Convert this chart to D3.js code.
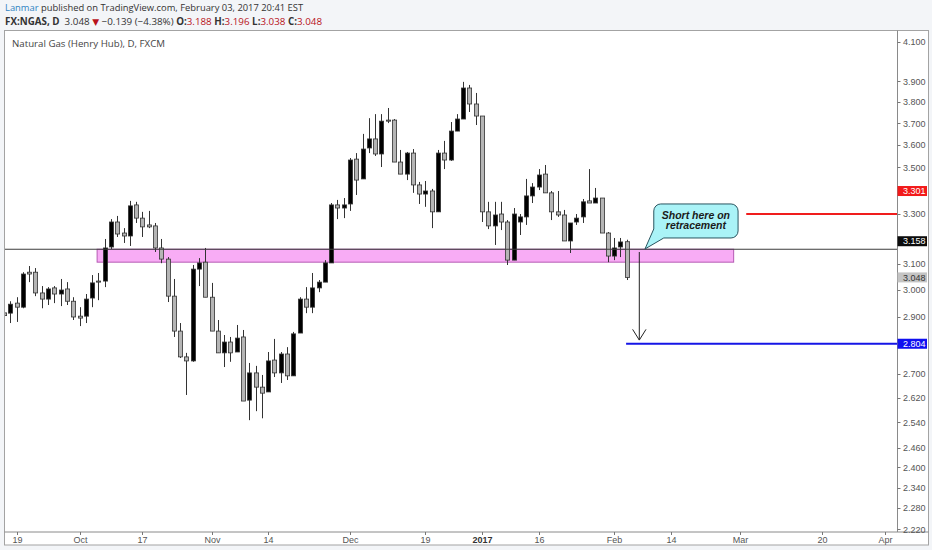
<!DOCTYPE html>
<html>
<head>
<meta charset="utf-8">
<script src="https://cdn.jsdelivr.net/npm/d3@7"></script>
<style>
  body { margin: 0; background: #f3f5f8; }
</style>
</head>
<body>
<svg id="chart" width="932" height="550"></svg>
<script>
// daily bars, FX:NGAS, from 2016-09-15
var opens  = [2.915,2.914,2.951,2.936,3.068,3.068,2.989,2.966,3.008,2.985,3.004,2.958,2.903,2.903,2.970,3.034,3.034,3.167,3.268,3.223,
              3.211,3.339,3.284,3.256,3.252,3.163,3.119,2.977,2.849,2.758,2.744,3.080,3.107,2.973,2.849,2.772,2.810,2.775,2.828,2.612,
              2.703,2.655,2.639,2.747,2.703,2.768,2.693,2.842,2.966,2.936,3.008,3.030,3.104,3.339,3.326,3.343,3.537,3.450,3.587,3.628,
              3.560,3.715,3.715,3.524,3.471,3.564,3.424,3.385,3.398,3.310,3.564,3.533,3.664,3.720,3.868,3.791,3.734,3.310,3.252,3.301,
              3.268,3.115,3.268,3.289,3.377,3.415,3.471,3.390,3.310,3.297,3.191,3.268,3.289,3.356,3.347,3.368,3.223,3.131,3.167,3.188];
var highs  = [2.930,2.958,2.973,3.068,3.092,3.084,3.015,3.011,3.015,3.042,3.030,2.973,2.936,2.985,3.057,3.065,3.199,3.280,3.293,3.243,
              3.356,3.352,3.310,3.314,3.264,3.199,3.127,3.042,2.878,2.772,3.096,3.123,3.163,3.027,2.889,2.835,2.828,2.871,2.853,2.737,
              2.727,2.696,2.775,2.821,2.775,2.792,2.846,2.973,3.011,3.065,3.038,3.115,3.347,3.360,3.368,3.542,3.564,3.651,3.724,3.743,
              3.743,3.772,3.720,3.578,3.569,3.582,3.437,3.441,3.407,3.578,3.619,3.706,3.743,3.898,3.883,3.844,3.734,3.352,3.352,3.352,
              3.276,3.326,3.301,3.450,3.432,3.493,3.511,3.398,3.398,3.318,3.264,3.301,3.364,3.493,3.411,3.368,3.227,3.203,3.203,3.196];
var lows   = [2.895,2.878,2.882,2.932,3.030,2.977,2.932,2.944,2.951,2.940,2.944,2.889,2.867,2.878,2.936,2.962,3.011,3.159,3.207,3.183,
              3.171,3.264,3.207,3.243,3.147,3.103,2.955,2.828,2.754,2.629,2.741,3.015,2.973,2.849,2.772,2.723,2.741,2.775,2.609,2.547,
              2.576,2.553,2.639,2.689,2.669,2.679,2.693,2.842,2.914,2.914,2.992,3.030,3.104,3.280,3.284,3.314,3.381,3.450,3.564,3.551,
              3.502,3.701,3.524,3.471,3.445,3.390,3.343,3.331,3.243,3.310,3.493,3.529,3.664,3.720,3.753,3.692,3.268,3.239,3.175,3.235,
              3.096,3.115,3.215,3.256,3.347,3.402,3.390,3.276,3.289,3.191,3.143,3.256,3.264,3.347,3.347,3.223,3.107,3.115,3.127,3.038];
var closes = [2.905,2.947,2.936,3.061,3.061,2.989,2.966,3.004,2.985,3.000,2.958,2.900,2.896,2.966,3.027,3.030,3.163,3.268,3.219,3.211,
              3.335,3.284,3.248,3.248,3.163,3.119,2.977,2.849,2.758,2.744,3.080,3.104,2.973,2.849,2.772,2.810,2.772,2.824,2.609,2.703,
              2.655,2.635,2.744,2.703,2.768,2.693,2.839,2.966,2.936,3.008,3.030,3.104,3.339,3.326,3.339,3.533,3.445,3.582,3.628,3.560,
              3.710,3.710,3.524,3.471,3.564,3.424,3.385,3.398,3.310,3.564,3.533,3.664,3.720,3.868,3.791,3.734,3.310,3.252,3.297,3.268,
              3.115,3.301,3.289,3.377,3.415,3.467,3.390,3.310,3.297,3.191,3.264,3.284,3.352,3.347,3.368,3.223,3.131,3.163,3.187,3.048];

var firstDay = "2016-09-15", lastDay = "2017-04-10";
var holidays = ["2016-12-26", "2017-01-02"];

var tickDays   = ["2016-09-19","2016-10-03","2016-10-17","2016-11-01","2016-11-14","2016-12-01","2016-12-19",
                  "2017-01-03","2017-01-16","2017-02-01","2017-02-14","2017-03-01","2017-03-20","2017-04-03"];
var tickLabels = ["19","Oct","17","Nov","14","Dec","19","2017","16","Feb","14","Mar","20","Apr"];

var priceTicks = [4.1,3.9,3.8,3.7,3.6,3.5,3.3,3.1,3.0,2.9,2.7,2.62,2.54,2.46,2.4,2.34,2.28,2.22];

// drawings
var zoneLow = 3.107, zoneHigh = 3.158, zoneBars = [14.8, 116];
var supportLevel = 3.158;
var resistLevel = 3.301, resistFromBar = 118;
var targetLevel = 2.804, targetFromBar = 98.9;
var arrowBar = 101, arrowFrom = 3.147, arrowTo = 2.817;
var calloutBars = [103.3, 116.7], calloutPrices = [3.343, 3.203], calloutTip = [101.9, 3.159];
var calloutLines = ["Short here on", "retracement"];

var svg = d3.select("#chart");

// layout
var plotL = 4.5, plotR = 897.5, plotT = 30.5, plotB = 532, axisR = 928.5, frameB = 545;

// trading day calendar -> bar index
var fmt = d3.timeFormat("%Y-%m-%d"), parse = d3.timeParse("%Y-%m-%d");
var barIndex = {};
var n = 0;
d3.timeDay.range(parse(firstDay), d3.timeDay.offset(parse(lastDay), 1)).forEach(function(d){
  var s = fmt(d), wd = d.getDay();
  if (wd === 0 || wd === 6 || holidays.indexOf(s) >= 0) return;
  barIndex[s] = n++;
});

var x = d3.scaleLinear().domain([0, 140]).range([4.02, 4.02 + 6.29 * 140]);
var y = d3.scaleLog().domain([2.22, 4.1]).range([529.4, 41.7]);

// frame
svg.append("rect").attr("x", plotL).attr("y", plotT).attr("width", axisR - plotL).attr("height", frameB - plotT)
  .attr("fill", "#fff").attr("stroke", "#a3a3a3");
svg.append("line").attr("x1", plotR).attr("x2", plotR).attr("y1", plotT).attr("y2", plotB).attr("stroke", "#8a8a8a");
svg.append("line").attr("x1", plotL).attr("x2", axisR).attr("y1", plotB).attr("y2", plotB).attr("stroke", "#8a8a8a");

svg.append("clipPath").attr("id", "plotclip").append("rect")
  .attr("x", plotL + 0.5).attr("y", plotT + 0.5).attr("width", plotR - plotL - 1).attr("height", plotB - plotT - 1);

var g = svg.append("g").attr("clip-path", "url(#plotclip)");

// header
var head = svg.append("g").attr("font-family", "'Open Sans', sans-serif").attr("fill", "#333");
var h1 = head.append("text").attr("x", 5).attr("y", 11).attr("font-size", 9.4);
h1.append("tspan").attr("fill", "#2f83c2").text("Lanmar");
h1.append("tspan").text(" published on TradingView.com, February 03, 2017 20:41 EST");
var h2 = head.append("text").attr("x", 5).attr("y", 24.5).attr("font-size", 9.8).attr("xml:space", "preserve");
h2.append("tspan").attr("font-weight", "bold").text("FX:NGAS, D");
h2.append("tspan").text("  3.048 ");
h2.append("tspan").attr("fill", "#b8121b").attr("font-family", "'DejaVu Sans'").attr("font-size", 9).text("▼");
h2.append("tspan").text(" −0.139 (−4.38%) ");
[["O:", "3.188"], ["H:", "3.196"], ["L:", "3.038"], ["C:", "3.048"]].forEach(function(p){
  h2.append("tspan").attr("font-weight", "bold").text(p[0]);
  h2.append("tspan").attr("fill", "#b8121b").text(p[1] + " ");
});
svg.append("text").attr("x", 12).attr("y", 46.5).attr("font-family", "'Open Sans', sans-serif")
  .attr("font-size", 9.7).attr("fill", "#444").text("Natural Gas (Henry Hub), D, FXCM");

// zone
g.append("rect")
  .attr("x", x(zoneBars[0])).attr("width", x(zoneBars[1]) - x(zoneBars[0]))
  .attr("y", y(zoneHigh)).attr("height", y(zoneLow) - y(zoneHigh))
  .attr("fill", "#f8acf5").attr("stroke", "#b55ab3").attr("stroke-width", 1);

// candles
var bars = opens.map(function(o, i){ return {i: i, o: o, h: highs[i], l: lows[i], c: closes[i]}; });
var cg = g.selectAll(".candle").data(bars).enter().append("g").attr("class", "candle");
cg.append("line")
  .attr("x1", function(d){ return Math.round(x(d.i)) + 0.5; })
  .attr("x2", function(d){ return Math.round(x(d.i)) + 0.5; })
  .attr("y1", function(d){ return y(d.h); })
  .attr("y2", function(d){ return y(d.l); })
  .attr("stroke", "#333").attr("stroke-width", 1);
cg.append("rect")
  .attr("x", function(d){ return Math.round(x(d.i)) - 1.6; })
  .attr("width", 4.2)
  .attr("y", function(d){ return y(Math.max(d.o, d.c)); })
  .attr("height", function(d){ return Math.max(1, y(Math.min(d.o, d.c)) - y(Math.max(d.o, d.c))); })
  .attr("fill", function(d){ return d.c >= d.o ? "#000" : "#b5b5b5"; })
  .attr("stroke", "#333").attr("stroke-width", 0.8);

// horizontal levels
g.append("line").attr("x1", plotL).attr("x2", plotR).attr("y1", y(supportLevel)).attr("y2", y(supportLevel))
  .attr("stroke", "#3c3c3c").attr("stroke-width", 1.2);
g.append("line").attr("x1", x(resistFromBar)).attr("x2", plotR).attr("y1", y(resistLevel)).attr("y2", y(resistLevel))
  .attr("stroke", "#f01d1d").attr("stroke-width", 2);
g.append("line").attr("x1", x(targetFromBar)).attr("x2", plotR).attr("y1", y(targetLevel)).attr("y2", y(targetLevel))
  .attr("stroke", "#1515e6").attr("stroke-width", 2);

// arrow
var ax = x(arrowBar), ay0 = y(arrowFrom), ay1 = y(arrowTo);
g.append("line").attr("x1", ax).attr("x2", ax).attr("y1", ay0).attr("y2", ay1).attr("stroke", "#222").attr("stroke-width", 1);
g.append("path").attr("d", "M" + (ax - 6.7) + "," + (ay1 - 10.7) + "L" + ax + "," + ay1 + "L" + (ax + 6.7) + "," + (ay1 - 10.7))
  .attr("fill", "none").attr("stroke", "#222").attr("stroke-width", 1);

// callout
var bx0 = x(calloutBars[0]), bx1 = x(calloutBars[1]), by0 = y(calloutPrices[0]), by1 = y(calloutPrices[1]);
var tx = x(calloutTip[0]), ty = y(calloutTip[1]), r = 7;
var p = d3.path();
p.moveTo(bx0 + r, by0);
p.lineTo(bx1 - r, by0);
p.arcTo(bx1, by0, bx1, by0 + r, r);
p.lineTo(bx1, by1 - r);
p.arcTo(bx1, by1, bx1 - r, by1, r);
p.lineTo(bx0 + 10, by1);
p.lineTo(tx, ty);
p.lineTo(bx0, by1 - 9);
p.lineTo(bx0, by0 + r);
p.arcTo(bx0, by0, bx0 + r, by0, r);
p.closePath();
g.append("path").attr("d", p.toString()).attr("fill", "#aaf3f7").attr("stroke", "#2a5560").attr("stroke-width", 1);
g.selectAll(".callout").data(calloutLines).enter().append("text")
  .attr("x", (bx0 + bx1) / 2).attr("y", function(d, i){ return by0 + 15 + i * 10.5; })
  .attr("text-anchor", "middle").attr("font-family", "'Liberation Sans', Arial, sans-serif")
  .attr("font-size", 10.5).attr("font-weight", "bold").attr("font-style", "italic").attr("fill", "#1a1a1a")
  .text(function(d){ return d; });

// price axis
var pa = svg.append("g").attr("font-family", "'Liberation Sans', Arial, sans-serif").attr("font-size", 9);
pa.selectAll(".pt").data(priceTicks).enter().append("line")
  .attr("x1", plotR).attr("x2", plotR + 3)
  .attr("y1", function(d){ return Math.round(y(d)) + 0.5; }).attr("y2", function(d){ return Math.round(y(d)) + 0.5; })
  .attr("stroke", "#777");
pa.selectAll(".pl").data(priceTicks).enter().append("text")
  .attr("x", 903).attr("y", function(d){ return y(d) + 3.2; })
  .attr("fill", "#555").text(function(d){ return d3.format(".3f")(d); });

// price labels on the axis
var tags = [
  {v: resistLevel, bg: "#f21a1a", fg: "#fff", dy: -23},
  {v: supportLevel, bg: "#0c0c0c", fg: "#fff", dy: -8},
  {v: closes[closes.length - 1], bg: "#c4c4c4", fg: "#333", dy: 0},
  {v: targetLevel, bg: "#1010f0", fg: "#fff", dy: 0}
];
var tg = pa.selectAll(".tag").data(tags).enter().append("g");
tg.append("rect").attr("x", plotR).attr("width", axisR - plotR - 1.5)
  .attr("y", function(d){ return y(d.v) + d.dy - 5; }).attr("height", 10)
  .attr("fill", function(d){ return d.bg; });
tg.append("text").attr("x", 903).attr("y", function(d){ return y(d.v) + d.dy + 3.2; })
  .attr("fill", function(d){ return d.fg; }).text(function(d){ return d3.format(".3f")(d.v); });

// time axis
var ta = svg.append("g").attr("font-family", "'Liberation Sans', Arial, sans-serif").attr("font-size", 9).attr("fill", "#555");
tickDays.forEach(function(s, i){
  var tx = Math.round(x(barIndex[s])) + 0.5;
  ta.append("line").attr("x1", tx).attr("x2", tx).attr("y1", plotB).attr("y2", plotB + 3).attr("stroke", "#777");
  ta.append("text").attr("x", tx).attr("y", plotB + 10.5).attr("text-anchor", "middle")
    .attr("font-weight", tickLabels[i] === "2017" ? "bold" : "normal")
    .attr("fill", tickLabels[i] === "2017" ? "#333" : "#555")
    .text(tickLabels[i]);
});
</script>
</body>
</html>
